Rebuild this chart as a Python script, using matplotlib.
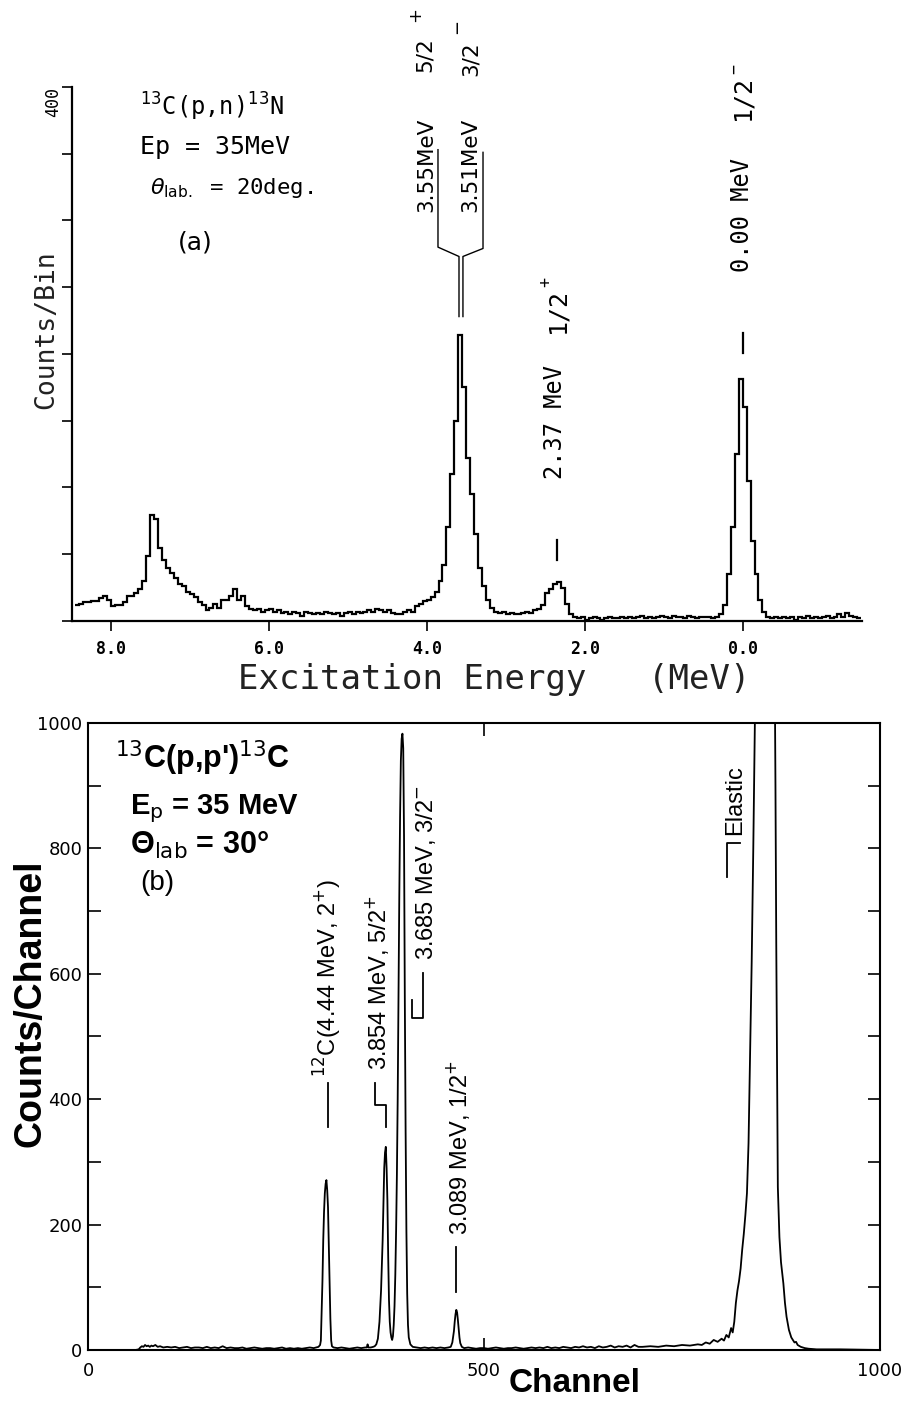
import numpy as np
import matplotlib
matplotlib.use('Agg')
import matplotlib.pyplot as plt

# ---- (a) 13C(p,n)13N, counts per 0.05 MeV bin, from 8.45 MeV downwards ----
bin_top = 8.45
bin_width = 0.05
counts_pn = (
    [12, 13, 14, 14, 15, 15, 17, 19, 16, 11, 12, 12, 14, 19, 19, 21, 24, 30, 49, 79] +   # 8.45 -> 7.45
    [76, 55, 46, 40, 36, 32, 28, 26, 22, 20, 18, 14, 12, 8, 10, 13, 10, 16, 16, 19] +     # 7.45 -> 6.45
    [24, 16, 19, 11, 9, 8, 9, 7, 8, 9, 7, 8, 6, 7, 5, 7, 6, 4, 7, 6] +                    # 6.45 -> 5.45
    [5, 6, 5, 7, 6, 5, 6, 4, 6, 7, 5, 7, 6, 7, 8, 7, 9, 8, 7, 8] +                        # 5.45 -> 4.45
    [6, 5, 5, 7, 8, 7, 11, 13, 15, 16, 18, 22, 30, 42, 70, 110, 150, 214, 175, 122] +     # 4.45 -> 3.45
    [95, 65, 40, 26, 16, 10, 7, 6, 7, 5, 6, 5, 5, 6, 7, 6, 8, 9, 12, 21] +                # 3.45 -> 2.45
    [24, 28, 29, 25, 13, 5, 3, 2, 3, 1, 2, 3, 2, 1, 2, 3, 2, 2, 3, 2] +                   # 2.45 -> 1.45
    [3, 2, 3, 4, 2, 3, 2, 3, 4, 3, 2, 4, 3, 3, 2, 4, 3, 2, 3, 3] +                        # 1.45 -> 0.45
    [3, 2, 3, 5, 12, 35, 70, 125, 181, 160, 105, 60, 35, 16, 7, 3, 2, 3, 2, 3] +          # 0.45 -> -0.55
    [2, 3, 1, 3, 2, 4, 2, 3, 2, 3, 4, 2, 3, 5, 3, 6, 4, 3, 2]                             # -0.55 -> -1.50
)
energy_ticks = [8.0, 6.0, 4.0, 2.0, 0.0]

# ---- (b) 13C(p,p')13C, counts per channel ----
channel = [0, 60, 64, 66, 68, 70, 72, 74, 76, 78, 80, 82, 85, 88, 91, 95, 100, 105, 110, 115,
           120, 125, 130, 135, 140, 145, 150, 155, 160, 165, 170, 175, 180, 185, 190, 195, 200,
           205, 210, 215, 220, 225, 230, 235, 240, 245, 250, 255, 260, 265, 270, 275, 280, 285,
           288, 291, 293, 294, 295, 296, 297, 298, 299, 300, 301, 302, 303, 304, 305, 306, 307,
           308, 310, 315, 320, 325, 330, 335, 340, 345, 350, 352, 353, 354, 357, 360, 362, 364,
           366, 368, 370, 372, 373, 374, 375, 376, 377, 378, 379, 380, 381, 382, 383, 384, 385,
           386, 387, 388, 389, 390, 391, 392, 393, 394, 395, 396, 397, 398, 399, 400, 401, 402,
           403, 404, 405, 407, 410, 415, 420, 425, 430, 435, 440, 445, 450, 455, 458, 460, 462,
           463, 464, 465, 466, 467, 468, 469, 470, 472, 475, 480, 485, 490, 495, 500, 505, 510,
           515, 520, 525, 530, 535, 540, 545, 550, 555, 560, 565, 570, 575, 580, 585, 590, 595,
           600, 605, 610, 615, 620, 625, 630, 635, 640, 645, 650, 655, 660, 665, 670, 675, 680,
           685, 690, 695, 700, 710, 720, 730, 740, 750, 760, 770, 775, 780, 785, 790, 795, 800,
           803, 806, 809, 812, 814, 816, 818, 820, 822, 824, 826, 828, 830, 832, 834, 836, 838,
           840, 842, 846, 852, 858, 864, 867, 868, 869, 870, 871, 873, 875, 878, 880, 882, 885,
           888, 890, 892, 894, 896, 900, 905, 910, 920, 950, 1000]
counts_pp = [0, 0, 1, 4, 6, 5, 8, 6, 7, 5, 7, 6, 8, 5, 6, 4, 5, 4, 5, 3,
             4, 5, 3, 4, 4, 3, 5, 3, 4, 3, 6, 3, 4, 3, 3, 4, 2,
             3, 4, 3, 2, 3, 3, 2, 3, 4, 2, 3, 2, 3, 2, 3, 4, 3,
             4, 5, 8, 15, 60, 110, 175, 220, 250, 265, 271, 255, 228, 170, 110, 50, 15,
             6, 4, 3, 4, 3, 2, 3, 4, 3, 4, 4, 9, 4, 4, 5, 6, 9,
             18, 45, 95, 175, 230, 290, 315, 324, 290, 239, 150, 80, 45, 28, 20, 16, 22,
             40, 70, 120, 190, 280, 400, 560, 720, 850, 940, 975, 983, 960, 820, 560, 350, 190,
             90, 40, 20, 9, 5, 4, 3, 4, 3, 4, 3, 4, 3, 4, 5, 12, 30,
             45, 57, 64, 60, 48, 33, 20, 11, 5, 3, 4, 3, 2, 3, 3, 2, 3,
             4, 3, 2, 3, 3, 4, 3, 2, 3, 4, 3, 4, 3, 5, 3, 4, 3,
             5, 4, 3, 5, 4, 6, 4, 5, 3, 6, 4, 5, 7, 4, 6, 5, 7,
             4, 8, 5, 5, 6, 5, 7, 6, 8, 7, 9, 8, 12, 10, 16, 13, 18,
             15, 24, 20, 35, 28, 45, 75, 95, 110, 130, 160, 185, 215, 250, 330, 478, 620,
             800, 1000, 1600, 2200, 2200, 1600, 1100, 900, 650, 450, 260, 180, 140, 106, 75, 53, 32,
             20, 16, 12, 13, 8, 5, 3, 2, 1, 1, 0]

mono = 'DejaVu Sans Mono'
sans = 'DejaVu Sans'
lsans = 'Liberation Sans'

fig = plt.figure(figsize=(9.16, 14.02), dpi=100)

# =================== panel (a) ===================
ax1 = fig.add_axes([0.0786, 0.5571, 0.8624, 0.3809])
edges = bin_top - bin_width * np.arange(len(counts_pn) + 1)
ax1.stairs(counts_pn[::-1], edges[::-1], color='black', lw=1.6, baseline=None)
ax1.set_xlim(8.49, -1.51)
ax1.set_ylim(0, 400)
for s in ['top', 'right']:
    ax1.spines[s].set_visible(False)
for s in ['left', 'bottom']:
    ax1.spines[s].set_linewidth(1.6)

ax1.set_xticks(energy_ticks)
ax1.set_xticklabels(['%.1f' % e for e in energy_ticks], family=mono, weight='bold', fontsize=12)
ax1.tick_params(axis='x', direction='out', length=7, width=1.2, pad=7)
ax1.set_yticks(np.arange(0, 401, 50))
ax1.set_yticklabels([''] * 8 + ['400'], rotation=90, va='top', family=mono, fontsize=12)
ax1.tick_params(axis='y', direction='out', length=7, width=1.2, pad=0)

fig.text(0.050, 0.765, 'Counts/Bin', rotation=90, ha='center', va='center',
         family=mono, fontsize=19, color='#222222')
ax1.text(0.535, -0.11, 'Excitation Energy   (MeV)', transform=ax1.transAxes,
         ha='center', va='center', family=mono, fontsize=24.5, color='#222222')

ax1.text(0.086, 0.963, r'$^{13}$C(p,n)$^{13}$N', transform=ax1.transAxes, ha='left',
         va='center', family=mono, fontsize=17)
ax1.text(0.086, 0.888, 'Ep = 35MeV', transform=ax1.transAxes, ha='left', va='center',
         family=mono, fontsize=18)
ax1.text(0.099, 0.811, r'$\theta_{\rm lab.}$ = 20deg.', transform=ax1.transAxes, ha='left',
         va='center', family=mono, fontsize=16)
ax1.text(0.134, 0.708, '(a)', transform=ax1.transAxes, ha='left', va='center',
         family=sans, fontsize=18)

# level labels above the peaks (data coords, outside the clip box)
kw = dict(rotation=90, ha='center', va='bottom', clip_on=False)
ax1.text(4.01, 306, '3.55MeV', family=sans, fontsize=15.5, **kw)
ax1.text(4.02, 411, '5/2', family=sans, fontsize=15.5, **kw)
ax1.text(4.15, 449, '+', family=sans, fontsize=13, **kw)
ax1.text(3.45, 306, '3.51MeV', family=sans, fontsize=15.5, **kw)
ax1.text(3.44, 408, '3/2', family=sans, fontsize=15.5, **kw)
ax1.text(3.62, 440, '−', family=sans, fontsize=13, **kw)
ax1.plot([3.857, 3.857, 3.591, 3.591], [353, 280, 273, 228], color='black', lw=1.0, clip_on=False)
ax1.plot([3.287, 3.287, 3.541, 3.541], [351, 279, 273, 228], color='black', lw=1.0, clip_on=False)

ax1.text(2.376, 106, '2.37 MeV', family=mono, fontsize=17, **kw)
ax1.text(2.35, 216, '1/2', family=mono, fontsize=18, **kw)
ax1.text(2.50, 250, '+', family=mono, fontsize=12, **kw)
ax1.plot([2.35, 2.35], [46, 61], color='black', lw=1.6)

ax1.text(0.009, 261, '0.00 MeV', family=mono, fontsize=17, **kw)
ax1.text(0.0, 375, '1/2', family=mono, fontsize=18, **kw)
ax1.text(0.11, 410, '−', family=mono, fontsize=12, **kw)
ax1.plot([0.0, 0.0], [201, 216], color='black', lw=1.6)

# =================== panel (b) ===================
ax2 = fig.add_axes([0.0961, 0.0371, 0.8646, 0.4472])
ax2.plot(channel, counts_pp, color='black', lw=1.3)
ax2.set_xlim(0, 1000)
ax2.set_ylim(0, 1000)
for s in ax2.spines.values():
    s.set_linewidth(1.5)

ax2.set_xticks([0, 500, 1000])
ax2.set_xticklabels(['0', '500', '1000'], family=sans, fontsize=13)
ax2.tick_params(axis='x', direction='in', length=9, width=1.2, top=True, pad=9)
yt = np.arange(0, 1001, 100)
ax2.set_yticks(yt)
ax2.set_yticklabels([str(v) if v % 200 == 0 else '' for v in yt], family=sans, fontsize=13)
ax2.tick_params(axis='y', direction='in', length=9, width=1.2, right=True, pad=4)

fig.text(0.033, 0.2846, 'Counts/Channel', rotation=90, ha='center', va='center',
         family=lsans, fontsize=27, weight='bold')
fig.text(0.627, 0.013, 'Channel', ha='center', va='center', family=lsans, fontsize=24,
         weight='bold')

ax2.text(0.034, 0.944, r"$^{13}$C(p,p')$^{13}$C", transform=ax2.transAxes,
         ha='left', va='center', family=lsans, fontsize=22, weight='bold')
ax2.text(0.053, 0.864, r'E$_{\rm p}$ = 35 MeV', transform=ax2.transAxes, ha='left',
         va='center', family=lsans, fontsize=21, weight='bold')
ax2.text(0.053, 0.804, r'Θ$_{\rm lab}$ = 30°', transform=ax2.transAxes, ha='left',
         va='center', family=lsans, fontsize=22, weight='bold')
ax2.text(0.066, 0.745, '(b)', transform=ax2.transAxes, ha='left', va='center',
         family=lsans, fontsize=20)

kw2 = dict(rotation=90, ha='center', va='bottom', family=lsans, fontsize=17)
ax2.text(303, 435, r'$^{12}$C(4.44 MeV, 2$^{+}$)', **kw2)
ax2.plot([303, 303], [426, 356], color='black', lw=1.3)
ax2.text(365, 447, r'3.854 MeV, 5/2$^{+}$', **kw2)
ax2.plot([362, 362, 376, 376], [426, 391, 391, 356], color='black', lw=1.3)
ax2.text(427, 622, r'3.685 MeV, 3/2$^{-}$', **kw2)
ax2.plot([423, 423, 409, 409], [601, 530, 530, 558], color='black', lw=1.3)
ax2.text(467, 183, r'3.089 MeV, 1/2$^{+}$', **kw2)
ax2.plot([465, 465], [164, 92], color='black', lw=1.3)
ax2.text(817, 821, 'Elastic', **kw2)
ax2.plot([823, 807, 807], [808, 808, 754], color='black', lw=1.3)

fig.savefig('out.png', dpi=100)
